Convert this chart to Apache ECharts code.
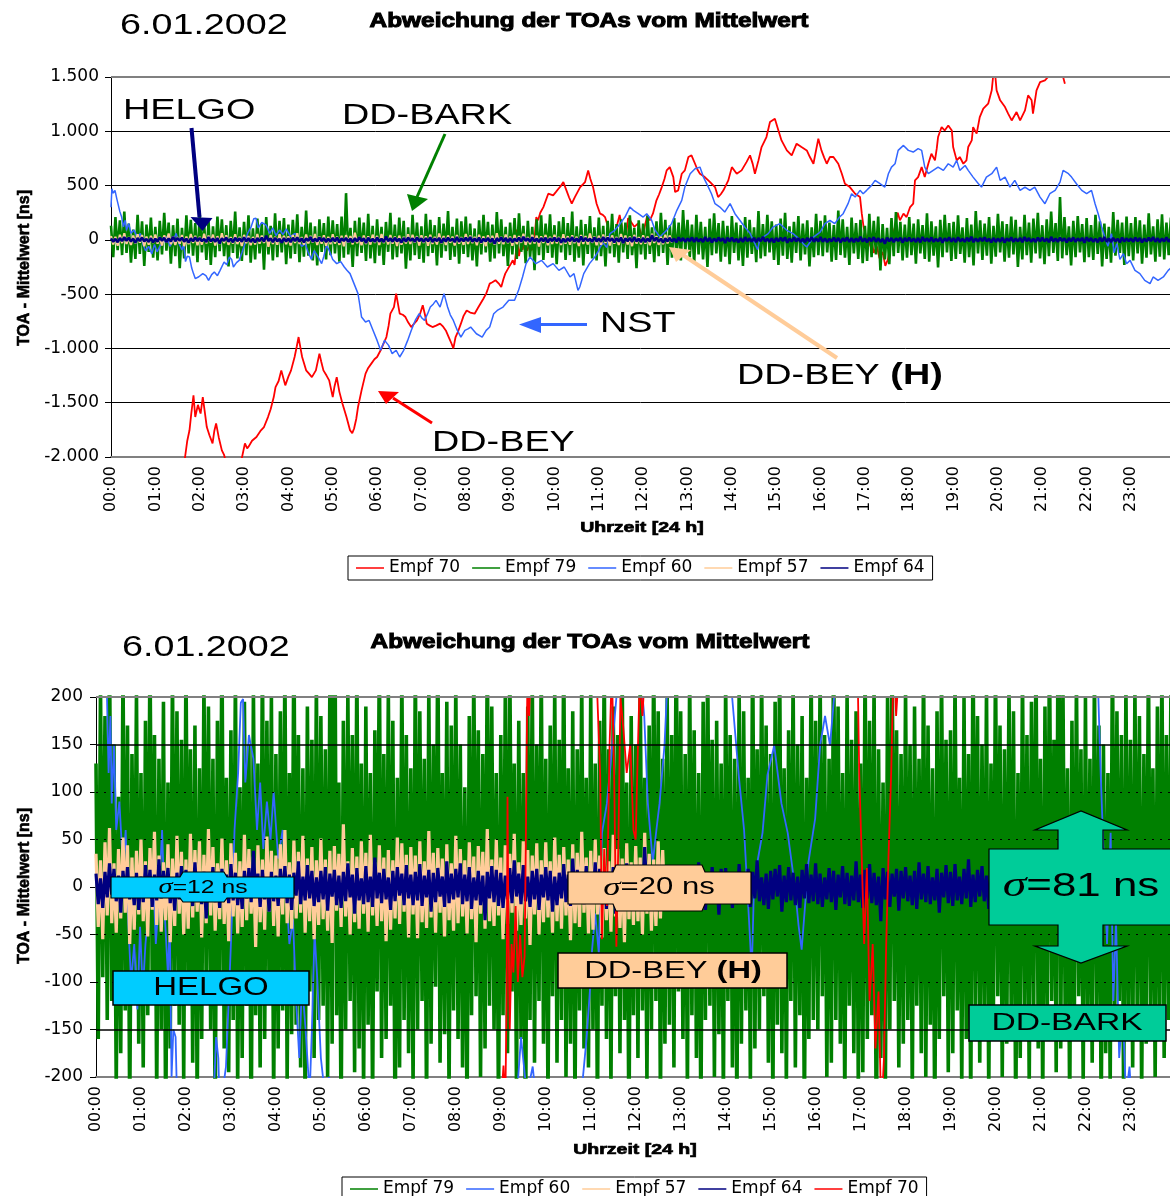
<!DOCTYPE html>
<html><head><meta charset="utf-8">
<script src="https://cdn.jsdelivr.net/npm/echarts@6/dist/echarts.min.js"></script>
<style>html,body{margin:0;padding:0;background:#fff}#c{width:1170px;height:1196px}</style>
</head><body><div id="c"></div>
<script>
// ---------- tick labels ----------
const hourLabels = ['00:00','01:00','02:00','03:00','04:00','05:00','06:00','07:00','08:00','09:00','10:00','11:00',
  '12:00','13:00','14:00','15:00','16:00','17:00','18:00','19:00','20:00','21:00','22:00','23:00'];
const topTickLabels = ['-2.000','-1.500','-1.000','-500','0','500','1.000','1.500'];
const bottomTickLabels = ['-200','-150','-100','-50','0','50','100','150','200'];
const legendTop = ['Empf 70','Empf 79','Empf 60','Empf 57','Empf 64'];
const legendBottom = ['Empf 79','Empf 60','Empf 57','Empf 64','Empf 70'];

// ---------- data (ns), sampled every STEP hours from 00:00 ----------
const STEP = 0.05;
const empf79 = [
130,-160,210,-95,180,-140,260,-120,150,-210,95,-175,230,-130,170,-240,140,-110,205,-165,
120,-190,175,-135,250,-100,160,-220,135,-150,195,-260,110,-170,225,-125,185,-145,155,-205,
240,-115,145,-185,170,-230,125,-160,215,-105,190,-150,135,-245,175,-120,260,-170,115,-195,
165,-140,225,-210,105,-180,195,-125,150,-275,210,-135,130,-190,245,-160,175,-115,200,-225,
140,-170,185,-130,235,-205,120,-155,270,-145,160,-190,125,-235,190,-110,155,-180,215,-140,
180,-125,145,-200,215,-165,430,-135,110,-250,175,-150,205,-120,160,-195,240,-170,130,-215,
190,-145,120,-230,165,-110,250,-180,140,-160,205,-125,175,-265,115,-190,230,-140,160,-175,
125,-210,240,-150,185,-120,135,-235,210,-165,150,-105,265,-185,120,-155,195,-220,170,-130,
215,-160,150,-190,105,-245,180,-135,230,-115,165,-200,140,-170,255,-125,190,-150,120,-240,
160,-135,200,-175,245,-110,130,-215,175,-160,120,-280,190,-140,225,-185,150,-120,235,-165,
135,-225,170,-115,210,-185,155,-140,260,-200,125,-165,185,-235,145,-130,220,-170,115,-190,
205,-150,130,-245,175,-125,240,-160,145,-210,190,-115,160,-175,225,-140,110,-260,180,-135,
150,-180,225,-130,115,-205,170,-150,250,-120,185,-230,135,-165,200,-145,160,-190,275,-110,
185,-160,140,-215,230,-135,165,-180,120,-250,195,-140,245,-125,155,-200,175,-155,130,-225,
220,-120,160,-190,135,-240,210,-165,185,-130,115,-205,265,-170,145,-150,230,-115,170,-185,
140,-230,195,-145,250,-175,125,-210,165,-120,220,-190,150,-135,180,-245,115,-160,240,-140,
175,-150,225,-115,160,-200,135,-185,270,-140,190,-165,120,-230,205,-125,155,-175,185,-215,
130,-195,240,-160,175,-135,215,-281,145,-180,110,-225,200,-150,255,-120,165,-190,140,-165,
210,-140,150,-220,190,-125,135,-175,245,-200,170,-145,125,-255,185,-160,230,-115,155,-195,
165,-175,225,-130,115,-210,200,-160,140,-235,265,-125,180,-185,150,-145,210,-220,130,-155,
240,-115,170,-200,145,-165,215,-135,185,-250,120,-180,230,-140,160,-210,195,-125,250,-170,
135,-225,190,-150,260,-120,155,-195,394,-170,210,-140,125,-235,175,-160,220,-115,145,-205,
200,-160,135,-185,230,-130,170,-245,150,-175,120,-210,255,-145,185,-120,160,-230,215,-150,
155,-190,210,-125,180,-220,140,-165,245,-135,125,-200,190,-155,235,-180,160,-140,205,-175];

const empf64 = [
14,-18,9,-22,16,-11,25,-8,19,-15,12,-27,17,-10,21,-13,8,-19,15,-24,
11,-16,23,-9,18,-21,13,-14,29,-12,17,-8,20,-17,10,-25,15,-13,22,-10,
18,-12,9,-20,26,-15,12,-18,16,-33,14,-9,21,-16,11,-22,19,-11,13,-17,
24,-14,15,-19,10,-23,17,-12,20,-16,38,-10,14,-21,18,-13,9,-26,16,-15,
12,-20,19,-11,22,-17,13,-24,15,-9,27,-18,11,-14,23,-12,17,-20,10,-16,
17,-13,21,-25,14,-10,18,-19,12,-22,16,-15,25,-11,13,-28,20,-14,9,-18,
22,-16,11,-21,31,-12,15,-17,19,-13,10,-24,17,-15,21,-9,14,-19,23,-12,
13,-19,16,-14,24,-20,12,-11,18,-26,15,-16,20,-10,11,-21,27,-17,14,-13,
19,-11,25,-18,13,-15,21,-23,10,-14,17,-19,12,-35,16,-12,22,-16,18,-20,
15,-22,12,-13,20,-17,28,-10,14,-18,23,-15,11,-21,17,-13,19,-24,13,-11,
21,-14,17,-26,11,-19,15,-12,24,-16,13,-20,30,-14,18,-11,10,-18,22,-15,
12,-17,26,-13,19,-10,14,-23,16,-15,21,-28,13,-12,18,-19,25,-14,11,-20,
18,-21,13,-16,42,-12,20,-18,11,-25,15,-14,19,-17,12,-22,23,-11,16,-19,
14,-12,22,-19,17,-15,10,-20,26,-13,18,-24,12,-16,21,-10,15,-29,19,-13,
20,-16,11,-22,15,-18,24,-11,13,-17,19,-21,16,-12,28,-15,10,-19,14,-23,
17,-13,19,-10,23,-26,12,-16,21,-14,15,-19,11,-22,18,-12,24,-17,13,-15,
25,-18,14,-21,10,-13,20,-16,17,-24,13,-11,22,-18,15,-20,12,-14,27,-16,
13,-22,18,-12,24,-17,15,-19,11,-36,20,-13,16,-21,14,-10,19,-25,17,-12,
21,-15,12,-19,17,-23,26,-13,14,-16,22,-18,10,-14,19,-27,15,-11,23,-17,
16,-20,24,-14,11,-18,19,-12,29,-21,13,-16,18,-10,22,-15,12,-23,17,-19,
12,-17,20,-25,15,-11,23,-19,13,-14,18,-22,26,-12,16,-18,11,-20,21,-13,
19,-14,13,-21,27,-16,12,-18,20,-10,15,-24,17,-13,22,-19,14,-11,18,-26,
23,-12,16,-18,11,-22,19,-15,25,-17,13,-20,18,-14,10,-23,21,-16,15,-12,
14,-19,21,-13,17,-24,12,-16,20,-11,26,-18,15,-21,13,-15,22,-17,11,-20];

const empf57 = [
35,-42,28,-55,47,-30,62,-38,25,-48,40,-33,52,-27,44,-60,31,-45,38,-29,
50,-36,27,-52,41,-24,58,-40,33,-47,26,-35,45,-58,30,-41,54,-28,37,-50,
29,-44,56,-32,39,-26,48,-53,34,-38,61,-30,42,-46,25,-34,51,-39,28,-57,
46,-31,36,-49,27,-42,55,-35,40,-28,32,-63,44,-37,29,-45,53,-26,38,-41,
33,-52,45,-29,60,-38,26,-44,49,-33,37,-27,54,-48,30,-36,42,-55,28,-40,
51,-34,29,-46,38,-59,43,-25,35,-42,66,-31,27,-50,41,-37,32,-44,48,-28,
36,-47,55,-30,26,-41,44,-36,31,-57,39,-45,28,-33,52,-39,46,-26,34,-53,
42,-29,33,-54,48,-37,27,-43,59,-32,36,-48,41,-27,30,-52,45,-35,25,-46,
54,-38,40,-31,28,-49,47,-34,32,-58,43,-28,37,-44,61,-36,29,-41,50,-30,
31,-55,44,-39,35,-27,56,-46,26,-40,48,-33,39,-61,33,-29,46,-50,28,-37,
47,-32,27,-48,52,-36,34,-44,42,-30,29,-56,45,-38,36,-42,58,-27,31,-49,
38,-45,50,-29,33,-53,41,-35,27,-47,55,-31,40,-43,30,-58,46,-34,26,-40,
43,-36,31,-50,57,-28,35,-46,29,-41,48,-33,39,-25];

// [hour, ns]
const empf70 = [
[1.64,-2150],[1.67,-2000],[1.72,-1850],[1.77,-1754],[1.81,-1600],[1.86,-1432],[1.90,-1632],[1.96,-1520],[2.02,-1600],[2.07,-1448],
[2.12,-1600],[2.16,-1724],[2.22,-1800],[2.29,-1874],[2.33,-1760],[2.37,-1690],[2.43,-1820],[2.50,-1939],[2.55,-1980],[2.59,-2050],
[2.70,-2120],[2.80,-2090],[2.93,-2050],[3.02,-1874],[3.07,-1920],[3.11,-1900],[3.18,-1850],[3.28,-1816],[3.37,-1760],[3.45,-1724],
[3.54,-1632],[3.60,-1560],[3.67,-1448],[3.71,-1356],[3.78,-1300],[3.84,-1202],[3.93,-1340],[4.00,-1260],[4.06,-1202],[4.14,-1079],
[4.19,-980],[4.23,-895],[4.27,-990],[4.31,-1079],[4.40,-1202],[4.46,-1230],[4.53,-1264],[4.62,-1202],[4.70,-1048],[4.74,-1120],
[4.79,-1202],[4.86,-1250],[4.92,-1294],[5.00,-1448],[5.04,-1350],[5.09,-1264],[5.15,-1400],[5.22,-1510],[5.31,-1632],[5.39,-1754],
[5.44,-1780],[5.48,-1740],[5.53,-1650],[5.57,-1540],[5.65,-1386],[5.74,-1232],[5.80,-1180],[5.87,-1140],[5.94,-1100],[6.00,-1079],
[6.08,-1017],[6.14,-960],[6.21,-895],[6.26,-790],[6.30,-680],[6.38,-619],[6.43,-495],[6.51,-680],[6.58,-690],[6.64,-711],
[6.70,-760],[6.77,-803],[6.84,-770],[6.90,-742],[6.97,-680],[7.03,-603],[7.08,-690],[7.12,-772],[7.19,-790],[7.25,-803],
[7.33,-790],[7.42,-772],[7.49,-800],[7.55,-834],[7.62,-900],[7.68,-957],[7.72,-1000],[7.77,-895],[7.83,-840],[7.89,-772],
[7.95,-700],[8.02,-650],[8.10,-670],[8.20,-680],[8.27,-630],[8.33,-588],[8.40,-540],[8.46,-495],[8.50,-450],[8.54,-403],
[8.60,-390],[8.67,-372],[8.74,-400],[8.80,-434],[8.85,-360],[8.89,-311],[8.96,-260],[9.02,-219],[9.06,-188],[9.10,-230],
[9.13,-120],[9.15,95],[9.17,-40],[9.20,-150],[9.24,-60],[9.28,-90],[9.33,-20],[9.38,-100],[9.43,-50],[9.48,-95],
[9.53,-73],[9.56,60],[9.59,210],[9.63,180],[9.68,250],[9.75,302],[9.86,425],[9.97,410],[10.03,440],[10.09,471],
[10.15,500],[10.20,532],[10.27,456],[10.33,390],[10.39,333],[10.46,394],[10.52,440],[10.58,486],[10.64,510],[10.69,532],
[10.76,640],[10.81,560],[10.87,486],[10.95,333],[11.03,241],[11.09,230],[11.14,210],[11.21,118],[11.25,-55],[11.30,40],
[11.36,-20],[11.42,150],[11.47,230],[11.52,120],[11.57,-63],[11.62,60],[11.66,200],[11.72,170],[11.80,120],[11.88,150],
[11.95,60],[12.00,50],[12.04,130],[12.09,220],[12.15,180],[12.22,241],[12.30,364],[12.36,420],[12.42,486],[12.48,560],
[12.53,640],[12.60,670],[12.68,578],[12.72,440],[12.79,456],[12.87,609],[12.94,640],[13.02,763],[13.09,778],[13.17,701],
[13.22,650],[13.28,609],[13.39,578],[13.51,532],[13.62,486],[13.69,394],[13.75,420],[13.81,456],[13.92,548],[14.00,670],
[14.11,609],[14.22,640],[14.33,716],[14.41,778],[14.47,700],[14.52,609],[14.60,732],[14.67,855],[14.78,947],[14.86,1085],
[14.97,1116],[15.05,1008],[15.12,916],[15.18,870],[15.24,824],[15.35,778],[15.46,886],[15.57,855],[15.69,824],[15.76,763],
[15.84,701],[15.95,932],[16.02,824],[16.08,760],[16.14,701],[16.21,763],[16.29,763],[16.40,701],[16.48,609],[16.55,517],
[16.66,486],[16.78,425],[16.89,394],[16.93,241],[16.97,120],[17.02,40],[17.08,-60],[17.14,20],[17.20,-120],[17.27,-60],
[17.33,-170],[17.40,-110],[17.46,-240],[17.52,-180],[17.57,-60],[17.62,30],[17.68,120],[17.74,250],[17.79,180],[17.87,241],
[17.94,210],[18.02,302],[18.09,333],[18.13,548],[18.20,578],[18.28,670],[18.35,578],[18.43,701],[18.50,793],[18.58,732],
[18.62,840],[18.65,947],[18.73,1039],[18.80,1008],[18.88,1054],[18.96,1008],[18.99,855],[19.07,732],[19.14,763],[19.22,701],
[19.29,732],[19.33,855],[19.41,916],[19.44,1039],[19.52,978],[19.59,1131],[19.67,1208],[19.78,1254],[19.86,1377],[19.89,1500],
[19.93,1560],[19.97,1377],[20.05,1285],[20.16,1223],[20.23,1162],[20.31,1100],[20.42,1177],[20.50,1100],[20.61,1193],[20.68,1331],
[20.76,1285],[20.79,1162],[20.87,1377],[20.95,1453],[21.06,1469],[21.13,1500],[21.22,1580],[21.35,1620],[21.47,1500],[21.51,1438]];

const empf60 = [
[0.00,300],[0.02,471],[0.05,430],[0.09,456],[0.13,380],[0.16,394],[0.20,260],[0.24,210],[0.28,120],[0.32,180],
[0.35,88],[0.40,150],[0.45,60],[0.52,90],[0.60,20],[0.66,60],[0.72,-40],[0.78,-100],[0.85,-60],[0.92,-129],
[0.98,-42],[1.04,-110],[1.10,-60],[1.18,-20],[1.26,30],[1.33,-60],[1.40,-10],[1.47,60],[1.53,-30],[1.60,-93],
[1.64,-35],[1.68,-200],[1.72,-150],[1.77,-158],[1.82,-260],[1.86,-311],[1.90,-357],[1.98,-340],[2.07,-311],[2.14,-330],
[2.20,-373],[2.27,-320],[2.33,-296],[2.40,-330],[2.46,-281],[2.55,-204],[2.61,-230],[2.67,-158],[2.72,-180],[2.76,-250],
[2.83,-210],[2.89,-189],[2.95,-120],[3.02,-35],[3.08,60],[3.16,120],[3.22,194],[3.27,198],[3.32,110],[3.40,160],
[3.50,135],[3.58,60],[3.65,110],[3.72,40],[3.80,90],[3.88,50],[3.95,100],[4.05,30],[4.15,60],[4.23,-5],
[4.30,-60],[4.38,-34],[4.45,-120],[4.52,-180],[4.58,-100],[4.66,-150],[4.75,-219],[4.80,-150],[4.86,-48],[4.92,-97],
[5.00,-180],[5.09,-219],[5.18,-200],[5.26,-250],[5.32,-280],[5.39,-311],[5.48,-403],[5.57,-495],[5.61,-600],[5.65,-711],
[5.74,-757],[5.82,-742],[5.91,-834],[6.00,-926],[6.08,-1017],[6.17,-926],[6.26,-972],[6.34,-1048],[6.43,-1017],[6.51,-1079],
[6.60,-1017],[6.69,-926],[6.77,-834],[6.86,-742],[6.95,-680],[7.01,-720],[7.07,-742],[7.14,-680],[7.20,-619],[7.27,-590],
[7.33,-557],[7.42,-619],[7.51,-495],[7.59,-619],[7.65,-690],[7.72,-742],[7.81,-834],[7.89,-895],[7.98,-834],[8.05,-820],
[8.11,-803],[8.24,-865],[8.37,-895],[8.46,-834],[8.54,-803],[8.63,-680],[8.71,-650],[8.84,-619],[8.97,-557],[9.10,-557],
[9.19,-465],[9.28,-342],[9.36,-219],[9.45,-158],[9.58,-219],[9.71,-189],[9.84,-250],[9.97,-219],[10.10,-281],[10.22,-250],
[10.35,-342],[10.44,-311],[10.53,-465],[10.57,-434],[10.66,-311],[10.79,-219],[10.91,-158],[11.00,-97],[11.03,-66],[11.10,-28],
[11.18,-70],[11.25,57],[11.36,88],[11.48,149],[11.59,210],[11.70,302],[11.78,272],[11.89,241],[12.00,210],[12.08,241],
[12.19,180],[12.27,88],[12.38,26],[12.46,60],[12.53,88],[12.64,149],[12.76,272],[12.87,364],[12.94,486],[13.06,609],
[13.17,655],[13.28,670],[13.36,578],[13.47,486],[13.54,425],[13.62,333],[13.73,302],[13.84,256],[13.96,333],[14.07,241],
[14.18,180],[14.29,118],[14.41,60],[14.52,-35],[14.58,-90],[14.63,0],[14.72,30],[14.82,57],[14.93,118],[15.08,149],
[15.24,88],[15.38,57],[15.54,0],[15.62,-40],[15.69,-66],[15.84,26],[15.99,72],[16.10,149],[16.21,180],[16.32,149],
[16.43,210],[16.51,241],[16.62,333],[16.70,425],[16.78,394],[16.89,456],[16.96,425],[17.04,456],[17.15,502],[17.23,548],
[17.34,517],[17.45,486],[17.53,609],[17.60,670],[17.68,701],[17.75,824],[17.87,870],[17.98,824],[18.09,809],[18.20,840],
[18.28,824],[18.35,670],[18.43,609],[18.54,640],[18.65,670],[18.77,640],[18.88,701],[18.99,670],[19.07,732],[19.14,640],
[19.26,685],[19.33,640],[19.44,578],[19.56,517],[19.63,486],[19.74,578],[19.86,609],[19.97,670],[20.05,548],[20.16,578],
[20.27,486],[20.38,548],[20.50,456],[20.61,486],[20.72,456],[20.83,486],[20.95,394],[21.06,333],[21.17,425],[21.29,456],
[21.40,532],[21.47,640],[21.59,609],[21.66,578],[21.77,517],[21.89,456],[22.00,425],[22.11,456],[22.19,333],[22.26,241],
[22.34,118],[22.41,26],[22.48,-60],[22.56,57],[22.62,-120],[22.68,-35],[22.75,-180],[22.83,-127],[22.90,-220],[22.98,-189],
[23.09,-281],[23.20,-311],[23.31,-373],[23.43,-403],[23.50,-342],[23.61,-373],[23.73,-342],[23.84,-281],[23.92,-250]];

// ---------- build ----------
const COLORS = {'Empf 70':'#FF0000','Empf 79':'#008000','Empf 60':'#3366FF','Empf 57':'#FFCC99','Empf 64':'#000080'};
const timed = arr => arr.map((v,i) => [+(i*STEP).toFixed(2), v]);
const DATA = {'Empf 70':empf70,'Empf 79':timed(empf79),'Empf 60':empf60,'Empf 57':timed(empf57),'Empf 64':timed(empf64)};

function line(name, gi, width, extra) {
  return Object.assign({
    type:'line', name, xAxisIndex:gi, yAxisIndex:gi, data:DATA[name], showSymbol:false, symbol:'none',
    color:COLORS[name], lineStyle:{color:COLORS[name], width, join:'bevel'}, animation:false, silent:true,
    emphasis:{disabled:true}, clip:true
  }, extra||{});
}
const ML = (items) => ({silent:true, symbol:'none', animation:false, label:{show:false}, data:items});

const hourFmt = v => (Math.abs(v-Math.round(v))<1e-6 && v<23.5) ? hourLabels[Math.round(v)] : '';
const labelFont = {fontFamily:'DejaVu Sans', fontSize:17, color:'#000'};

function xAxis(gi) {
  return {type:'value', gridIndex:gi, min:0, max:23.88, interval:1,
    axisLine:{show:true, onZero:false, lineStyle:{color:'#808080', width:2}},
    axisTick:{show:false}, splitLine:{show:false},
    axisLabel:Object.assign({rotate:90, margin:9, formatter:hourFmt, showMaxLabel:false}, labelFont, {fontSize:16})};
}
const series = [
  line('Empf 70',0,1.8,{markLine:ML([{yAxis:1500, lineStyle:{color:'#808080', width:2, type:'solid'}}])}),
  line('Empf 79',0,2.6),
  line('Empf 60',0,1.5),
  line('Empf 57',0,2.2),
  line('Empf 64',0,2.6),
  line('Empf 79',1,3.6),
  line('Empf 60',1,1.8),
  line('Empf 57',1,3.2),
  line('Empf 64',1,3.2),
  line('Empf 70',1,1.8,{markLine:ML([
    {yAxis:200, lineStyle:{color:'#808080', width:2, type:'solid'}},
    {yAxis:150, lineStyle:{color:'#000', width:1.5, type:'solid'}},
    {yAxis:100, lineStyle:{color:'#000', width:1, type:[2,6]}},
    {yAxis:50, lineStyle:{color:'#000', width:1, type:[2,6]}},
    {yAxis:-50, lineStyle:{color:'#000', width:1, type:[2,6]}},
    {yAxis:-100, lineStyle:{color:'#000', width:1, type:[2,6]}},
    {yAxis:-150, lineStyle:{color:'#000', width:1.5, type:'solid'}}])})
];

// ---------- annotations ----------
function T(x, y, text, size, o) {
  o = o || {};
  const el = {type:'text', x, y, z:100, scaleX:o.sx||1, rotation:o.rot||0, silent:true,
    style:{text, fontSize:size, fontFamily:o.ff||'Liberation Sans', fontWeight:o.fw||'normal', fill:'#000',
      align:o.align||'left', verticalAlign:'middle'}};
  if (o.heavy) { el.style.stroke = '#000'; el.style.lineWidth = o.heavy; }
  if (o.rich) el.style.rich = o.rich;
  return el;
}
const sig = s => ({s:{fontFamily:'Liberation Serif', fontStyle:'italic', fontSize:s+3, fill:'#000'},
                   t:{fontFamily:'Liberation Sans', fontSize:s, fill:'#000'}});
const bold = s => ({a:{fontFamily:'Liberation Sans', fontSize:s, fill:'#000'},
                    b:{fontFamily:'Liberation Sans', fontSize:s, fontWeight:'bold', fill:'#000'}});
function arrow(x1,y1,x2,y2,head,color,w) {
  return [{type:'line', z:100, silent:true, shape:{x1,y1,x2,y2}, style:{stroke:color, lineWidth:w}},
          {type:'polygon', z:100, silent:true, shape:{points:head}, style:{fill:color}}];
}
function poly(points, fill) {
  return {type:'polygon', z:99, silent:true, shape:{points}, style:{fill, stroke:'#000', lineWidth:1.2}};
}
function box(x,y,w,h,fill) {
  return {type:'rect', z:99, silent:true, shape:{x,y,width:w,height:h}, style:{fill, stroke:'#000', lineWidth:1.5}};
}

const graphic = [].concat(
  // titles
  T(120, 26, '6.01.2002', 29, {sx:1.3}),
  T(589, 21, 'Abweichung der TOAs vom Mittelwert', 20, {fw:'bold', align:'center', sx:1.22, heavy:1}),
  T(122, 648, '6.01.2002', 29, {sx:1.3}),
  T(590, 642, 'Abweichung der TOAs vom Mittelwert', 20, {fw:'bold', align:'center', sx:1.22, heavy:1}),
  T(25, 268, 'TOA - Mittelwert [ns]', 16, {fw:'bold', align:'center', rot:Math.PI/2, heavy:0.6}),
  T(25, 886, 'TOA - Mittelwert [ns]', 16, {fw:'bold', align:'center', rot:Math.PI/2, heavy:0.6}),
  T(642, 528, 'Uhrzeit [24 h]', 15, {fw:'bold', align:'center', sx:1.3, heavy:0.7}),
  T(635, 1150, 'Uhrzeit [24 h]', 15, {fw:'bold', align:'center', sx:1.3, heavy:0.7}),
  // top annotations
  T(123, 111, 'HELGO', 30, {sx:1.26}),
  T(342, 116, 'DD-BARK', 30, {sx:1.26}),
  T(600, 324, 'NST', 30, {sx:1.26}),
  T(737, 376, '{a|DD-BEY }{b|(H)}', 30, {sx:1.26, rich:bold(30)}),
  T(432, 443, 'DD-BEY', 30, {sx:1.26}),
  arrow(191.5,128,199.5,217, [[190.5,217],[212.5,218],[202.5,231]], '#000080', 4),
  arrow(445,134,417,197, [[407,194],[428,199],[412,211]], '#008000', 3),
  arrow(587,324.5,540,324.5, [[541,317],[541,333],[519,324.5]], '#3366FF', 3),
  arrow(837,358,683,255, [[691,250],[676,262],[669,247]], '#FFCC99', 4),
  arrow(432,423,393,398, [[399,392],[386,404],[378,391]], '#FF0000', 3),
  // bottom annotations
  poly([[111,877],[180,877],[183,872],[224,872],[227,877],[294,877],[294,898],[227,898],[224,902],[183,902],[180,898],[111,898]], '#00CCFF'),
  T(203, 887.5, '{s|σ}{t|=12 ns}', 19, {align:'center', sx:1.3, rich:sig(19)}),
  box(113, 971, 196, 34, '#00CCFF'),
  T(211, 988, 'HELGO', 25, {align:'center', sx:1.32}),
  poly([[568,872],[613,872],[616,865],[702,865],[705,872],[751,872],[751,904],[705,904],[702,911],[616,911],[613,904],[568,904]], '#FFCC99'),
  T(659, 888, '{s|σ}{t|=20 ns}', 23, {align:'center', sx:1.35, rich:sig(23)}),
  box(558, 953, 229, 35, '#FFCC99'),
  T(673, 971, '{a|DD-BEY }{b|(H)}', 24, {align:'center', sx:1.36, rich:bold(24)}),
  poly([[989,849],[1058,849],[1058,830],[1035,830],[1081,811],[1127,830],[1103,830],[1103,849],[1175,849],[1175,925],
        [1103,925],[1103,946],[1127,946],[1081,963],[1035,946],[1058,946],[1058,925],[989,925]], '#00CC99'),
  T(1081, 887, '{s|σ}{t|=81 ns}', 33, {align:'center', sx:1.33, rich:sig(33)}),
  box(969, 1005, 197, 36, '#00CC99'),
  T(1067, 1023, 'DD-BARK', 24, {align:'center', sx:1.4})
);

const legendBase = {orient:'horizontal', icon:'rect', itemWidth:28, itemHeight:1.5, itemGap:12, padding:[3,8],
  borderColor:'#000', borderWidth:1, selectedMode:false, backgroundColor:'#fff',
  textStyle:{fontFamily:'DejaVu Sans', fontSize:17, color:'#000', lineHeight:18}};

const option = {
  backgroundColor:'#fff',
  animation:false,
  grid:[{left:111, top:77, width:1059, height:380, outerBoundsMode:'none', containLabel:false},
        {left:96, top:697, width:1074, height:380, outerBoundsMode:'none', containLabel:false}],
  xAxis:[xAxis(0), xAxis(1)],
  yAxis:[
    {type:'value', gridIndex:0, min:-2000, max:1500, interval:500,
     axisLine:{show:true, onZero:false, lineStyle:{color:'#000', width:1}},
     axisTick:{show:true, length:6, lineStyle:{color:'#000'}},
     splitLine:{show:true, lineStyle:{color:'#000', width:1}},
     axisLabel:Object.assign({margin:12, formatter:v => topTickLabels[Math.round((v+2000)/500)]}, labelFont)},
    {type:'value', gridIndex:1, min:-200, max:200, interval:50,
     axisLine:{show:true, onZero:false, lineStyle:{color:'#000', width:1}},
     axisTick:{show:true, length:6, lineStyle:{color:'#000'}},
     splitLine:{show:false},
     axisLabel:Object.assign({margin:13, formatter:v => bottomTickLabels[Math.round((v+200)/50)]}, labelFont)}
  ],
  legend:[Object.assign({left:348, top:556, data:legendTop}, legendBase),
          Object.assign({left:342, top:1177, data:legendBottom}, legendBase)],
  series,
  graphic
};
const chart = echarts.init(document.getElementById('c'), null, {renderer:'canvas', width:1170, height:1196});
chart.setOption(option);
</script>
</body></html>
